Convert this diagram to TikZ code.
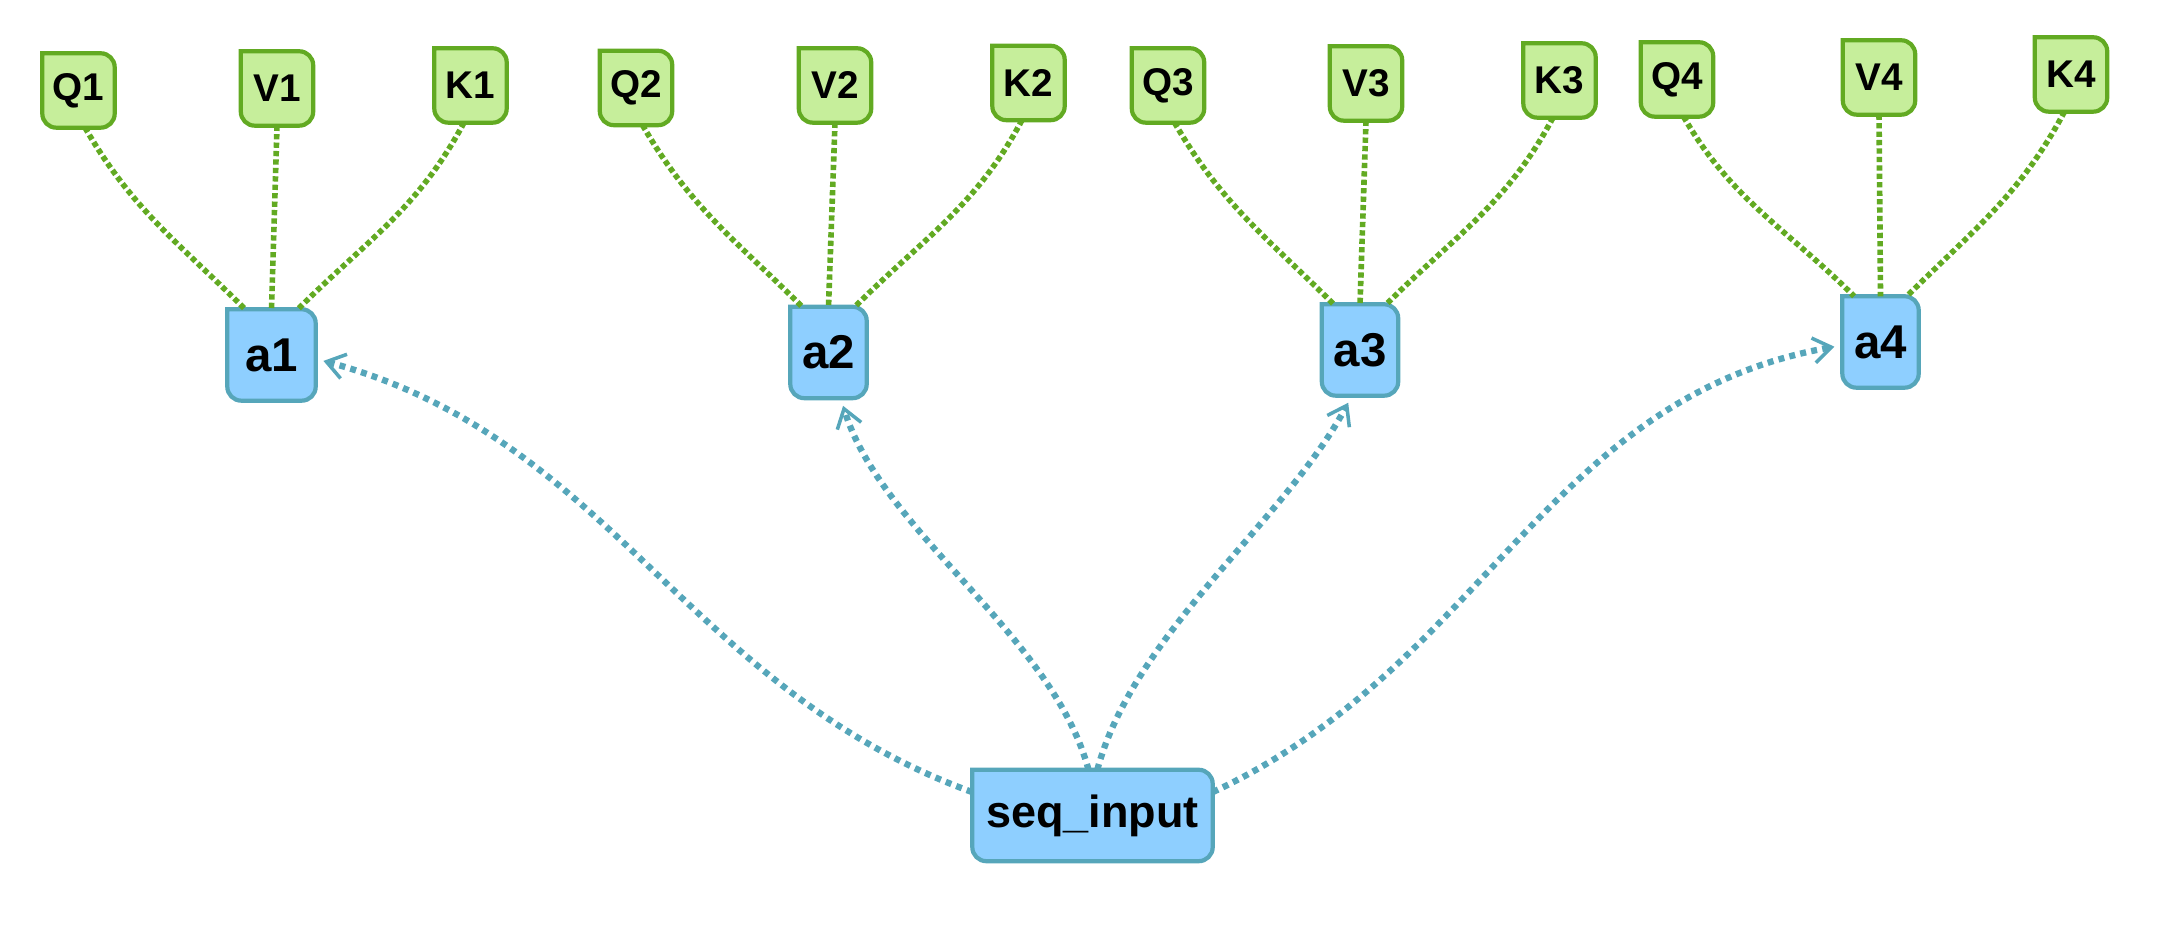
\documentclass[tikz,border=0pt]{standalone}
\usepackage{fontspec}
\setmainfont{Liberation Sans}
\usetikzlibrary{arrows.meta}
\definecolor{qvkfill}{RGB}{198,238,155}
\definecolor{qvkline}{RGB}{98,170,34}
\definecolor{afill}{RGB}{142,207,255}
\definecolor{aline}{RGB}{86,166,186}
\tikzset{
  tabbox/.style 2 args={inner sep=0pt, append after command={\pgfextra{%
    \begin{pgfinterruptpath}
    \draw[draw=#1, fill=#2, line width=1.2pt]
      (\tikzlastnode.north west) -- ([yshift=1.4mm]\tikzlastnode.south west)
      arc[start angle=180, end angle=270, radius=1.4mm]
      -- ([xshift=-1.4mm]\tikzlastnode.south east)
      arc[start angle=270, end angle=360, radius=1.4mm]
      -- ([yshift=-1.4mm]\tikzlastnode.north east)
      arc[start angle=0, end angle=90, radius=1.4mm] -- cycle;
    \end{pgfinterruptpath}}}},
  qvk/.style={tabbox={qvkline}{qvkfill}, minimum width=7.1mm, minimum height=7.3mm,
    font=\bfseries\fontsize{11}{13}\selectfont},
  attn/.style={tabbox={aline}{afill}, minimum width=7.5mm, minimum height=9mm,
    font=\bfseries\fontsize{13.5}{16}\selectfont},
  feed/.style={qvkline, line width=1.6pt, dash pattern=on 1.5pt off 0.9pt},
  pull/.style={aline, line width=1.8pt, dash pattern=on 1.7pt off 1.5pt, shorten >=0.8mm,
    -{Straight Barb[length=1.8mm,width=2.5mm,line width=1pt]}}
}
\begin{document}
\begin{tikzpicture}[x=0.1mm, y=0.1mm]
\useasboundingbox (0,0) rectangle (2178,930);
% first head
\node[qvk] (Q1) at (78.5,839.5) {Q1};
\node[qvk] (V1) at (277,841.5) {V1};
\node[qvk] (K1) at (470.5,844.5) {K1};
\node[attn, minimum width=8.7mm] (a1) at (271.5,575) {a1};
% second head
\node[qvk] (Q2) at (636,842) {Q2};
\node[qvk] (V2) at (835,844.5) {V2};
\node[qvk] (K2) at (1028.5,847) {K2};
\node[attn] (a2) at (828.5,577.5) {a2};
% third head
\node[qvk] (Q3) at (1168,844.5) {Q3};
\node[qvk] (V3) at (1366,846.5) {V3};
\node[qvk] (K3) at (1559.5,849.5) {K3};
\node[attn] (a3) at (1360,580) {a3};
% fourth head
\node[qvk] (Q4) at (1677,850.5) {Q4};
\node[qvk] (V4) at (1879,852.5) {V4};
\node[qvk] (K4) at (2071,855.5) {K4};
\node[attn] (a4) at (1880.5,588) {a4};
% input
\node[attn, minimum width=23.9mm, font=\bfseries\fontsize{12.8}{15}\selectfont] (seq) at (1092.5,114.5) {seq\_input};
% Q, V, K into each head
\draw[feed] (Q1.280) to[out=-60,in=135] (a1.120);
\draw[feed] (V1.south) -- (a1.north);
\draw[feed] (K1.260) to[out=-118,in=45] (a1.60);
\draw[feed] (Q2.280) to[out=-60,in=135] (a2.120);
\draw[feed] (V2.south) -- (a2.north);
\draw[feed] (K2.260) to[out=-118,in=45] (a2.60);
\draw[feed] (Q3.280) to[out=-60,in=135] (a3.120);
\draw[feed] (V3.south) -- (a3.north);
\draw[feed] (K3.260) to[out=-118,in=45] (a3.60);
\draw[feed] (Q4.280) to[out=-60,in=135] (a4.120);
\draw[feed] (V4.south) -- (a4.north);
\draw[feed] (K4.260) to[out=-118,in=45] (a4.60);
% input to heads
\draw[pull] (seq.169) to[out=160,in=-15] (a1.355);
\draw[pull] (seq.95) to[out=105,in=-73,looseness=0.8] (a2.285);
\draw[pull] (seq.84) to[out=75,in=-118,looseness=0.8] (a3.260);
\draw[pull] (seq.11) to[out=25,in=190] (a4.185);
\end{tikzpicture}
\end{document}
